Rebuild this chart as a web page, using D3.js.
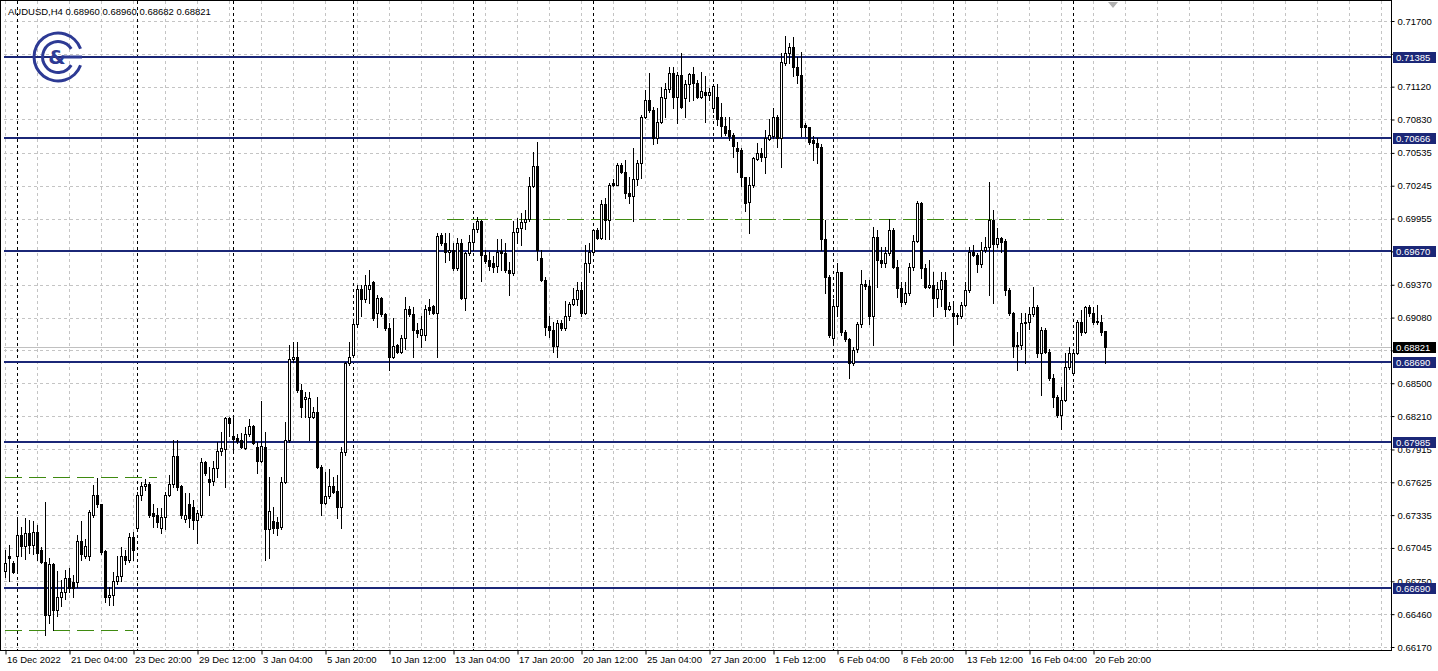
<!DOCTYPE html>
<html><head><meta charset="utf-8">
<script src="https://cdn.jsdelivr.net/npm/d3@7"></script>
<style>
body{margin:0;background:#fff}
svg{display:block}
text{font-family:"Liberation Sans",Arial,sans-serif;font-size:9.5px;fill:#000}
</style></head><body>
<svg id="chart" width="1438" height="671"></svg>
<script>
// ---------- DATA (AUDUSD H4) ----------
const symbolTitle = "AUDUSD,H4  0.68960 0.68960 0.68682 0.68821";
const openP = [
0.6684,0.6697,0.6691,0.6697,0.6716,0.6706,0.6718,0.6707,0.6719,0.6703,
0.6692,0.6645,0.6690,0.6650,0.6661,0.6666,0.6678,0.6674,0.6674,0.6711,
0.6697,0.6697,0.6734,0.6751,0.6743,0.6702,0.6661,0.6663,0.6675,0.6680,
0.6697,0.6694,0.6714,0.6722,0.6751,0.6759,0.6761,0.6735,0.6734,0.6722,
0.6732,0.6751,0.6761,0.6786,0.6759,0.6730,0.6743,0.6741,0.6729,0.6734,
0.6780,0.6765,0.6764,0.6775,0.6790,0.6792,0.6819,0.6803,0.6802,0.6800,
0.6793,0.6805,0.6812,0.6794,0.6781,0.6794,0.6721,0.6728,0.6727,0.6723,
0.6763,0.6800,0.6871,0.6873,0.6844,0.6836,0.6820,0.6820,0.6825,0.6776,
0.6744,0.6750,0.6759,0.6755,0.6741,0.6789,0.6868,0.6875,0.6902,0.6933,
0.6924,0.6933,0.6939,0.6912,0.6925,0.6911,0.6899,0.6873,0.6884,0.6878,
0.6890,0.6916,0.6911,0.6897,0.6893,0.6893,0.6917,0.6918,0.6912,0.6981,
0.6974,0.6966,0.6968,0.6952,0.6974,0.6925,0.6965,0.6975,0.6986,0.6993,
0.6963,0.6959,0.6956,0.6954,0.6967,0.6965,0.6950,0.6947,0.6984,0.6987,
0.6992,0.6995,0.7024,0.7042,0.6961,0.6941,0.6901,0.6897,0.6883,0.6903,
0.6899,0.6909,0.6920,0.6924,0.6932,0.6912,0.6956,0.6966,0.6985,0.6978,
0.7008,0.6994,0.7027,0.7025,0.7043,0.7037,0.7018,0.7015,0.7030,0.7045,
0.7085,0.7100,0.7091,0.7067,0.7081,0.7102,0.7110,0.7124,0.7103,0.7122,
0.7102,0.7114,0.7123,0.7115,0.7103,0.7107,0.7105,0.7093,0.7103,0.7085,
0.7077,0.7074,0.7069,0.7058,0.7056,0.7032,0.7010,0.7025,0.7048,0.7053,
0.7050,0.7066,0.7068,0.7085,0.7067,0.7133,0.7142,0.7147,0.7129,0.7122,
0.7078,0.7076,0.7065,0.7062,0.7059,0.6977,0.6944,0.6890,0.6918,0.6948,
0.6895,0.6889,0.6868,0.6880,0.6902,0.6938,0.6936,0.6909,0.6979,0.6959,
0.6956,0.6965,0.6985,0.6953,0.6934,0.6922,0.6930,0.6953,0.6976,0.7009,
0.6952,0.6935,0.6937,0.6925,0.6933,0.6941,0.6916,0.6912,0.6910,0.6909,
0.6919,0.6932,0.6966,0.6963,0.6955,0.6968,0.6970,0.6994,0.6973,0.6978,
0.6976,0.6932,0.6912,0.6883,0.6884,0.6903,0.6904,0.6911,0.6917,0.6877,
0.6897,0.6878,0.6855,0.6838,0.6822,0.6835,0.6864,0.6859,0.6877,0.6904,
0.6895,0.6917,0.6912,0.6904,0.6904,0.68960];
const highP = [
0.6703,0.6707,0.6693,0.6732,0.6723,0.6731,0.6729,0.6728,0.6725,0.6705,
0.6745,0.6696,0.6691,0.6684,0.6676,0.6685,0.6687,0.6681,0.6716,0.6728,
0.6712,0.6738,0.6760,0.6766,0.6743,0.6703,0.6670,0.6683,0.6697,0.6705,
0.6703,0.6718,0.6719,0.6754,0.6763,0.6765,0.6763,0.6743,0.6740,0.6740,
0.6754,0.6769,0.6800,0.6800,0.6760,0.6753,0.6753,0.6747,0.6738,0.6784,
0.6781,0.6776,0.6781,0.6798,0.6807,0.6820,0.6820,0.6819,0.6805,0.6806,
0.6811,0.6818,0.6813,0.6798,0.6834,0.6807,0.6767,0.6741,0.6732,0.6767,
0.6816,0.6884,0.6886,0.6886,0.6849,0.6842,0.6842,0.6829,0.6838,0.6778,
0.6772,0.6774,0.6767,0.6769,0.6794,0.6869,0.6886,0.6904,0.6937,0.6937,
0.6946,0.6950,0.6940,0.6928,0.6926,0.6912,0.6903,0.6908,0.6885,0.6893,
0.6926,0.6918,0.6917,0.6903,0.6909,0.6919,0.6924,0.6919,0.6983,0.6983,
0.6983,0.6983,0.6974,0.6978,0.6977,0.6966,0.6981,0.6989,0.6997,0.6994,
0.6968,0.6966,0.6962,0.6977,0.6977,0.6974,0.6957,0.6993,0.6996,0.7000,
0.7003,0.7032,0.7054,0.7063,0.6968,0.6944,0.6909,0.6904,0.6906,0.6906,
0.6923,0.6922,0.6934,0.6939,0.6939,0.6972,0.6974,0.6986,0.6987,0.7012,
0.7014,0.7027,0.7030,0.7045,0.7045,0.7047,0.7032,0.7058,0.7047,0.7087,
0.7109,0.7124,0.7094,0.7093,0.7112,0.7115,0.7129,0.7129,0.7125,0.7142,
0.7118,0.7124,0.7129,0.7118,0.7125,0.7121,0.7111,0.7114,0.7114,0.7098,
0.7085,0.7085,0.7071,0.7063,0.7058,0.7032,0.7032,0.7050,0.7062,0.7058,
0.7074,0.7083,0.7093,0.7087,0.7142,0.7157,0.7151,0.7156,0.7138,0.7143,
0.7080,0.7076,0.7068,0.7067,0.7061,0.6994,0.6946,0.6924,0.6956,0.6948,
0.6897,0.6890,0.6882,0.6904,0.6950,0.6941,0.6941,0.6988,0.6985,0.6970,
0.6970,0.6995,0.6987,0.6959,0.6939,0.6939,0.6956,0.6981,0.7011,0.7010,
0.6955,0.6959,0.6948,0.6939,0.6948,0.6948,0.6922,0.6921,0.6912,0.6922,
0.6939,0.6970,0.6972,0.6965,0.6975,0.6979,0.7028,0.7003,0.6987,0.6979,
0.6977,0.6934,0.6913,0.6895,0.6912,0.6912,0.6917,0.6935,0.6919,0.6900,
0.6899,0.6880,0.6858,0.6840,0.6847,0.6877,0.6882,0.6878,0.6906,0.6915,
0.6918,0.6919,0.6917,0.6919,0.6910,0.68960];
const lowP = [
0.6679,0.6675,0.6682,0.6683,0.6697,0.6695,0.6700,0.6699,0.6694,0.6691,
0.6628,0.6638,0.6632,0.6644,0.6653,0.6659,0.6666,0.6661,0.6670,0.6694,
0.6696,0.6694,0.6732,0.6741,0.6699,0.6657,0.6654,0.6654,0.6673,0.6675,
0.6690,0.6692,0.6694,0.6721,0.6747,0.6756,0.6732,0.6723,0.6723,0.6718,
0.6721,0.6750,0.6758,0.6756,0.6731,0.6727,0.6723,0.6721,0.6709,0.6732,
0.6769,0.6751,0.6760,0.6767,0.6787,0.6758,0.6803,0.6791,0.6797,0.6793,
0.6792,0.6803,0.6796,0.6771,0.6780,0.6694,0.6696,0.6718,0.6716,0.6721,
0.6762,0.6798,0.6869,0.6842,0.6820,0.6820,0.6800,0.6819,0.6775,0.6734,
0.6743,0.6749,0.6753,0.6731,0.6722,0.6787,0.6866,0.6873,0.6900,0.6909,
0.6922,0.6921,0.6906,0.6900,0.6909,0.6897,0.6862,0.6872,0.6877,0.6877,
0.6880,0.6909,0.6873,0.6891,0.6882,0.6888,0.6911,0.6911,0.6873,0.6972,
0.6957,0.6959,0.6950,0.6950,0.6924,0.6915,0.6963,0.6968,0.6984,0.6940,
0.6956,0.6950,0.6948,0.6948,0.6950,0.6948,0.6928,0.6946,0.6974,0.6972,
0.6986,0.6993,0.7023,0.6959,0.6940,0.6893,0.6891,0.6878,0.6873,0.6897,
0.6897,0.6906,0.6919,0.6919,0.6909,0.6911,0.6948,0.6965,0.6977,0.6977,
0.6977,0.6977,0.7024,0.7025,0.7036,0.7014,0.7009,0.6993,0.7025,0.7031,
0.7084,0.7090,0.7061,0.7062,0.7080,0.7085,0.7107,0.7093,0.7080,0.7093,
0.7085,0.7099,0.7100,0.7102,0.7102,0.7081,0.7100,0.7090,0.7078,0.7068,
0.7069,0.7065,0.7050,0.7037,0.7024,0.7002,0.6983,0.7023,0.7047,0.7046,
0.7036,0.7065,0.7067,0.7059,0.7041,0.7131,0.7133,0.7121,0.7115,0.7068,
0.7068,0.7061,0.7047,0.7045,0.6968,0.6930,0.6891,0.6886,0.6909,0.6893,
0.6887,0.6855,0.6866,0.6878,0.6900,0.6933,0.6902,0.6884,0.6935,0.6953,
0.6953,0.6963,0.6952,0.6926,0.6918,0.6920,0.6928,0.6950,0.6975,0.6943,
0.6934,0.6934,0.6909,0.6917,0.6918,0.6909,0.6915,0.6886,0.6902,0.6908,
0.6918,0.6931,0.6962,0.6948,0.6953,0.6966,0.6928,0.6921,0.6970,0.6966,
0.6928,0.6910,0.6873,0.6862,0.6880,0.6868,0.6898,0.6909,0.6873,0.6840,
0.6877,0.6853,0.6829,0.6820,0.6810,0.6834,0.6863,0.6858,0.6876,0.6893,
0.6894,0.6909,0.6902,0.6902,0.6893,0.68682];
const closeP = [
0.6691,0.6696,0.6683,0.6716,0.6706,0.6718,0.6707,0.6719,0.6700,0.6692,
0.6645,0.6690,0.6650,0.6661,0.6666,0.6678,0.6669,0.6669,0.6711,0.6699,
0.6706,0.6736,0.6751,0.6743,0.6701,0.6661,0.6663,0.6675,0.6680,0.6697,
0.6694,0.6714,0.6703,0.6751,0.6759,0.6761,0.6734,0.6733,0.6727,0.6732,
0.6751,0.6761,0.6786,0.6758,0.6734,0.6734,0.6731,0.6729,0.6735,0.6780,
0.6771,0.6763,0.6775,0.6790,0.6793,0.6819,0.6815,0.6801,0.6799,0.6794,
0.6805,0.6812,0.6797,0.6781,0.6795,0.6721,0.6737,0.6722,0.6722,0.6763,
0.6800,0.6871,0.6873,0.6844,0.6829,0.6838,0.6837,0.6825,0.6776,0.6744,
0.6750,0.6759,0.6754,0.6741,0.6789,0.6868,0.6873,0.6902,0.6933,0.6924,
0.6937,0.6937,0.6908,0.6925,0.6911,0.6899,0.6873,0.6883,0.6878,0.6890,
0.6916,0.6911,0.6897,0.6894,0.6898,0.6916,0.6915,0.6912,0.6980,0.6974,
0.6966,0.6968,0.6952,0.6974,0.6925,0.6965,0.6975,0.6986,0.6993,0.6963,
0.6958,0.6954,0.6953,0.6966,0.6965,0.6950,0.6947,0.6984,0.6987,0.6992,
0.6995,0.7024,0.7042,0.6968,0.6941,0.6900,0.6897,0.6883,0.6903,0.6899,
0.6909,0.6920,0.6924,0.6932,0.6912,0.6956,0.6966,0.6985,0.6978,0.7008,
0.6994,0.7025,0.7025,0.7043,0.7037,0.7018,0.7015,0.7030,0.7045,0.7085,
0.7100,0.7091,0.7067,0.7081,0.7103,0.7110,0.7124,0.7103,0.7122,0.7094,
0.7114,0.7123,0.7115,0.7103,0.7108,0.7105,0.7107,0.7113,0.7083,0.7077,
0.7071,0.7068,0.7060,0.7055,0.7032,0.7009,0.7025,0.7049,0.7053,0.7050,
0.7067,0.7069,0.7085,0.7067,0.7134,0.7142,0.7147,0.7129,0.7122,0.7076,
0.7076,0.7063,0.7062,0.7059,0.6977,0.6944,0.6893,0.6918,0.6948,0.6895,
0.6889,0.6868,0.6879,0.6902,0.6938,0.6936,0.6909,0.6979,0.6959,0.6956,
0.6965,0.6985,0.6953,0.6934,0.6922,0.6930,0.6953,0.6976,0.7009,0.6952,
0.6935,0.6937,0.6925,0.6933,0.6941,0.6916,0.6918,0.6909,0.6909,0.6919,
0.6932,0.6966,0.6963,0.6955,0.6968,0.6970,0.6994,0.6973,0.6978,0.6975,
0.6932,0.6912,0.6883,0.6884,0.6903,0.6904,0.6911,0.6917,0.6877,0.6897,
0.6878,0.6855,0.6838,0.6822,0.6835,0.6864,0.6877,0.6877,0.6904,0.6895,
0.6917,0.6912,0.6904,0.6905,0.6895,0.68821];

// price axis grid levels and their labels (labels hidden behind level boxes are not shown)
const priceTicks = [0.71700,0.71410,0.71120,0.70830,0.70535,0.70245,0.69955,0.69665,0.69370,0.69080,
                    0.68790,0.68500,0.68210,0.67915,0.67625,0.67335,0.67045,0.66750,0.66460,0.66170];
const hiddenTickLabels = [0.71410,0.69665,0.68790];
// time axis labels (every 16 bars)
const timeLabels = ["16 Dec 2022","21 Dec 04:00","23 Dec 20:00","29 Dec 12:00","3 Jan 04:00","5 Jan 20:00",
  "10 Jan 12:00","13 Jan 04:00","17 Jan 20:00","20 Jan 12:00","25 Jan 04:00","27 Jan 20:00",
  "1 Feb 12:00","6 Feb 04:00","8 Feb 20:00","13 Feb 12:00","16 Feb 04:00","20 Feb 20:00"];
const timeLabelBars = [0,16,32,48,64,80,96,112,128,144,160,176,192,208,224,240,256,272];
// weekly period separators (bar index of first bar of each week)
const weekStartBars = [3,33,57,87,117,147,177,207,237,267];
// horizontal support / resistance levels
const levels = [0.71385,0.70666,0.69670,0.68690,0.67985,0.66690];
const levelLabels = ["0.71385","0.70666","0.69670","0.68690","0.67985","0.66690"];
// green dashed levels: price, from bar, to bar
const greenLevels = [0.67672,0.66320,0.69950];
const greenFrom = [0,0,110.5];
const greenTo = [38,32,265.5];
const lastPrice = 0.68821;

(function draw(){
const W = 1438, H = 671;
const pLeft = 4, pRight = 1391, pTop = 1, pBottom = 650;
const N = openP.length;
const svg = d3.select("#chart");

const x = d3.scaleLinear().domain([0, N - 1]).range([5, 1105]);
const y = d3.scaleLinear().domain([0.6617, 0.7170]).range([647, 21]);
const px = i => Math.round(x(i));
const py = v => Math.round(y(v));

const navy = "#1b2777";
const gridCol = "#c4c4c4";

svg.append("rect").attr("x", 0).attr("y", 0).attr("width", W).attr("height", H).attr("fill", "#fff");
const g = svg.append("g");

// horizontal grid
g.selectAll(".hg").data(priceTicks).join("line")
  .attr("x1", pLeft).attr("x2", pRight)
  .attr("y1", d => py(d) + 0.5).attr("y2", d => py(d) + 0.5)
  .attr("stroke", gridCol).attr("stroke-dasharray", "3,3").attr("stroke-width", 1);

// vertical grid every 8 bars
const vIdx = d3.range(0, Math.floor(x.invert(pRight - 2)) + 1, 8);
g.selectAll(".vg").data(vIdx).join("line")
  .attr("x1", d => px(d) + 0.5).attr("x2", d => px(d) + 0.5)
  .attr("y1", pTop).attr("y2", pBottom)
  .attr("stroke", gridCol).attr("stroke-dasharray", "3,3").attr("stroke-width", 1);

// weekly separators
g.selectAll(".sep").data(weekStartBars).join("line")
  .attr("x1", d => px(d) + 0.5).attr("x2", d => px(d) + 0.5)
  .attr("y1", pTop).attr("y2", pBottom)
  .attr("stroke", "#000").attr("stroke-dasharray", "3,3").attr("stroke-width", 1);

// last price line
g.append("line").attr("x1", pLeft).attr("x2", pRight)
  .attr("y1", py(lastPrice) + 0.5).attr("y2", py(lastPrice) + 0.5)
  .attr("stroke", "#c0c0c0").attr("stroke-width", 1);

// green dashed levels
g.selectAll(".gl").data(greenLevels).join("line")
  .attr("x1", (d, i) => x(greenFrom[i])).attr("x2", (d, i) => x(greenTo[i]))
  .attr("y1", d => py(d) + 0.5).attr("y2", d => py(d) + 0.5)
  .attr("stroke", "#3f8a10").attr("stroke-width", 1).attr("stroke-dasharray", "17,7");

// navy levels
g.selectAll(".lv").data(levels).join("line")
  .attr("x1", pLeft).attr("x2", pRight)
  .attr("y1", d => py(d)).attr("y2", d => py(d))
  .attr("stroke", navy).attr("stroke-width", 2);

// candles
const bars = d3.range(N);
const cg = g.append("g");
cg.selectAll(".wick").data(bars).join("line")
  .attr("x1", i => px(i) + 0.5).attr("x2", i => px(i) + 0.5)
  .attr("y1", i => py(highP[i])).attr("y2", i => py(lowP[i]) + 1)
  .attr("stroke", "#000").attr("stroke-width", 1);
cg.selectAll(".body").data(bars).join("rect")
  .each(function(i) {
    const o = py(openP[i]), c = py(closeP[i]);
    const t = Math.min(o, c), b = Math.max(o, c);
    const bull = closeP[i] > openP[i];
    const sel = d3.select(this);
    if (bull) {
      sel.attr("x", px(i) - 0.5).attr("y", t + 0.5).attr("width", 2).attr("height", Math.max(1, b - t))
        .attr("fill", "#fff").attr("stroke", "#000").attr("stroke-width", 1);
    } else {
      sel.attr("x", px(i) - 1).attr("y", t).attr("width", 3).attr("height", Math.max(1, b - t + 1))
        .attr("fill", "#000");
    }
  });

// frame & axes lines
svg.append("line").attr("x1", pRight + 0.5).attr("x2", pRight + 0.5).attr("y1", 0).attr("y2", pBottom + 1).attr("stroke", "#000");
svg.append("line").attr("x1", 0).attr("x2", pRight + 1).attr("y1", pBottom + 0.5).attr("y2", pBottom + 0.5).attr("stroke", "#000");
svg.append("line").attr("x1", 0.5).attr("x2", 0.5).attr("y1", 0).attr("y2", pBottom).attr("stroke", "#000");
svg.append("line").attr("x1", 0).attr("x2", pRight).attr("y1", 0.5).attr("y2", 0.5).attr("stroke", "#000");

// right price axis
const yAxis = d3.axisRight(y).tickValues(priceTicks).tickSize(3).tickPadding(3)
  .tickFormat(d => hiddenTickLabels.includes(d) ? "" : d3.format(".5f")(d));
const ya = svg.append("g").attr("transform", `translate(${pRight + 0.5},0)`).call(yAxis);
ya.select(".domain").remove();
ya.selectAll("text").style("font-family", "Liberation Sans, Arial, sans-serif").style("font-size", "9.5px").attr("fill", "#000");
ya.selectAll("line").attr("stroke", "#000");

// price boxes
const boxG = svg.append("g");
levels.forEach((v, i) => {
  const yy = py(v);
  boxG.append("rect").attr("x", pRight + 2).attr("y", yy - 5).attr("width", 43).attr("height", 11).attr("fill", navy);
  boxG.append("text").attr("x", pRight + 5).attr("y", yy + 4).text(levelLabels[i]).style("fill", "#fff");
});
{
  const yy = py(lastPrice);
  boxG.append("rect").attr("x", pRight + 2).attr("y", yy - 5).attr("width", 43).attr("height", 11).attr("fill", "#000");
  boxG.append("text").attr("x", pRight + 5).attr("y", yy + 4).text(d3.format(".5f")(lastPrice)).style("fill", "#fff");
}

// bottom time axis
const xAxis = d3.axisBottom(x).tickValues(timeLabelBars).tickSize(4).tickFormat((d, i) => timeLabels[i]);
const xa = svg.append("g").attr("transform", `translate(0.5,${pBottom + 0.5})`).call(xAxis);
xa.select(".domain").remove();
xa.selectAll("line").attr("stroke", "#000");
xa.selectAll("text").attr("text-anchor", "start").attr("dx", 1).attr("y", 6)
  .style("font-family", "Liberation Sans, Arial, sans-serif").style("font-size", "9.5px").attr("fill", "#000");

// title
svg.append("text").attr("x", 8).attr("y", 15).text(symbolTitle);

// chart shift marker
svg.append("path").attr("d", "M1108,2 L1118,2 L1113,8 Z").attr("fill", "#b0b0b0");

// logo
const logoCol = "#2d3a94";
const logo = svg.append("g").attr("transform", "translate(58,57)");
const arc = d3.arc();
logo.append("path").attr("d", arc({innerRadius: 22.5, outerRadius: 25.5, startAngle: 0.35, endAngle: 2 * Math.PI - 0.35})).attr("fill", logoCol)
  .attr("transform", "rotate(90)");
logo.append("path").attr("d", arc({innerRadius: 14, outerRadius: 17, startAngle: 0.55, endAngle: 2 * Math.PI - 0.55})).attr("fill", logoCol)
  .attr("transform", "rotate(90)");
logo.append("text").attr("x", -1).attr("y", 7).attr("text-anchor", "middle")
  .style("font-family", "DejaVu Sans, sans-serif").style("font-size", "20px").style("font-weight", "bold")
  .style("fill", logoCol).text("&");
logo.append("line").attr("x1", 4).attr("x2", 24).attr("y1", 0).attr("y2", 0).attr("stroke", logoCol).attr("stroke-width", 3);
})();
</script>
</body></html>
